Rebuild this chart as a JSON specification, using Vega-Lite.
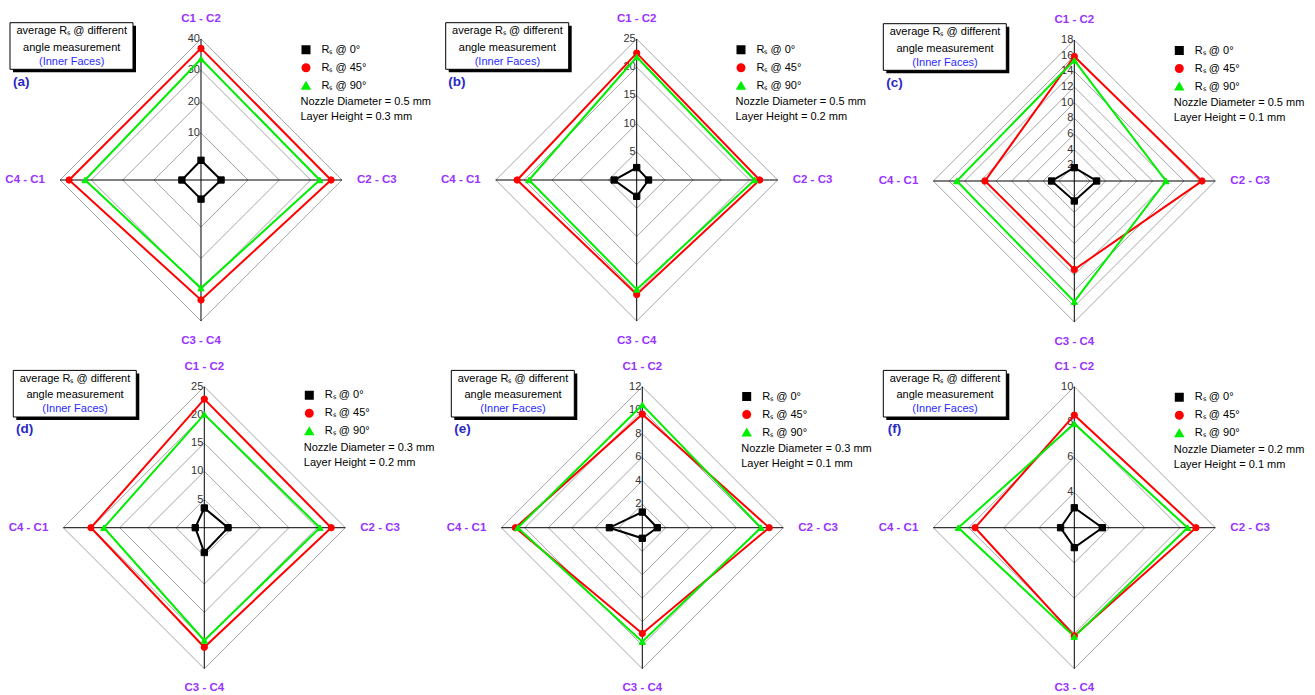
{
  "$schema": "https://vega.github.io/schema/vega-lite/v6.json",
  "padding": 0,
  "config": {"view": {"stroke": null}, "font": "Liberation Sans"},
  "datasets": {
    "ra": [
      {"panel": "a", "series": "0°", "pair": "C1 - C2", "value": 1.3},
      {"panel": "a", "series": "0°", "pair": "C2 - C3", "value": 1.4},
      {"panel": "a", "series": "0°", "pair": "C3 - C4", "value": 1.1},
      {"panel": "a", "series": "0°", "pair": "C4 - C1", "value": 1.1},
      {"panel": "a", "series": "45°", "pair": "C1 - C2", "value": 37.0},
      {"panel": "a", "series": "45°", "pair": "C2 - C3", "value": 36.5},
      {"panel": "a", "series": "45°", "pair": "C3 - C4", "value": 33.3},
      {"panel": "a", "series": "45°", "pair": "C4 - C1", "value": 37.1},
      {"panel": "a", "series": "90°", "pair": "C1 - C2", "value": 33.6},
      {"panel": "a", "series": "90°", "pair": "C2 - C3", "value": 32.9},
      {"panel": "a", "series": "90°", "pair": "C3 - C4", "value": 29.5},
      {"panel": "a", "series": "90°", "pair": "C4 - C1", "value": 32.0},
      {"panel": "b", "series": "0°", "pair": "C1 - C2", "value": 2.2},
      {"panel": "b", "series": "0°", "pair": "C2 - C3", "value": 2.1},
      {"panel": "b", "series": "0°", "pair": "C3 - C4", "value": 2.9},
      {"panel": "b", "series": "0°", "pair": "C4 - C1", "value": 4.0},
      {"panel": "b", "series": "45°", "pair": "C1 - C2", "value": 22.5},
      {"panel": "b", "series": "45°", "pair": "C2 - C3", "value": 21.8},
      {"panel": "b", "series": "45°", "pair": "C3 - C4", "value": 20.3},
      {"panel": "b", "series": "45°", "pair": "C4 - C1", "value": 21.2},
      {"panel": "b", "series": "90°", "pair": "C1 - C2", "value": 21.8},
      {"panel": "b", "series": "90°", "pair": "C2 - C3", "value": 20.9},
      {"panel": "b", "series": "90°", "pair": "C3 - C4", "value": 19.4},
      {"panel": "b", "series": "90°", "pair": "C4 - C1", "value": 19.1},
      {"panel": "c", "series": "0°", "pair": "C1 - C2", "value": 1.7},
      {"panel": "c", "series": "0°", "pair": "C2 - C3", "value": 2.85},
      {"panel": "c", "series": "0°", "pair": "C3 - C4", "value": 2.55},
      {"panel": "c", "series": "0°", "pair": "C4 - C1", "value": 2.9},
      {"panel": "c", "series": "45°", "pair": "C1 - C2", "value": 15.9},
      {"panel": "c", "series": "45°", "pair": "C2 - C3", "value": 16.3},
      {"panel": "c", "series": "45°", "pair": "C3 - C4", "value": 11.3},
      {"panel": "c", "series": "45°", "pair": "C4 - C1", "value": 11.4},
      {"panel": "c", "series": "90°", "pair": "C1 - C2", "value": 15.4},
      {"panel": "c", "series": "90°", "pair": "C2 - C3", "value": 11.7},
      {"panel": "c", "series": "90°", "pair": "C3 - C4", "value": 15.4},
      {"panel": "c", "series": "90°", "pair": "C4 - C1", "value": 15.0},
      {"panel": "d", "series": "0°", "pair": "C1 - C2", "value": 3.5},
      {"panel": "d", "series": "0°", "pair": "C2 - C3", "value": 4.2},
      {"panel": "d", "series": "0°", "pair": "C3 - C4", "value": 4.4},
      {"panel": "d", "series": "0°", "pair": "C4 - C1", "value": 1.6},
      {"panel": "d", "series": "45°", "pair": "C1 - C2", "value": 22.8},
      {"panel": "d", "series": "45°", "pair": "C2 - C3", "value": 22.5},
      {"panel": "d", "series": "45°", "pair": "C3 - C4", "value": 21.2},
      {"panel": "d", "series": "45°", "pair": "C4 - C1", "value": 20.1},
      {"panel": "d", "series": "90°", "pair": "C1 - C2", "value": 20.1},
      {"panel": "d", "series": "90°", "pair": "C2 - C3", "value": 20.5},
      {"panel": "d", "series": "90°", "pair": "C3 - C4", "value": 20.0},
      {"panel": "d", "series": "90°", "pair": "C4 - C1", "value": 17.8},
      {"panel": "e", "series": "0°", "pair": "C1 - C2", "value": 1.33},
      {"panel": "e", "series": "0°", "pair": "C2 - C3", "value": 1.27},
      {"panel": "e", "series": "0°", "pair": "C3 - C4", "value": 0.9},
      {"panel": "e", "series": "0°", "pair": "C4 - C1", "value": 2.8},
      {"panel": "e", "series": "45°", "pair": "C1 - C2", "value": 9.66},
      {"panel": "e", "series": "45°", "pair": "C2 - C3", "value": 10.8},
      {"panel": "e", "series": "45°", "pair": "C3 - C4", "value": 9.0},
      {"panel": "e", "series": "45°", "pair": "C4 - C1", "value": 10.8},
      {"panel": "e", "series": "90°", "pair": "C1 - C2", "value": 10.45},
      {"panel": "e", "series": "90°", "pair": "C2 - C3", "value": 10.1},
      {"panel": "e", "series": "90°", "pair": "C3 - C4", "value": 9.7},
      {"panel": "e", "series": "90°", "pair": "C4 - C1", "value": 10.6},
      {"panel": "f", "series": "0°", "pair": "C1 - C2", "value": 3.13},
      {"panel": "f", "series": "0°", "pair": "C2 - C3", "value": 3.59},
      {"panel": "f", "series": "0°", "pair": "C3 - C4", "value": 3.13},
      {"panel": "f", "series": "0°", "pair": "C4 - C1", "value": 2.78},
      {"panel": "f", "series": "45°", "pair": "C1 - C2", "value": 8.39},
      {"panel": "f", "series": "45°", "pair": "C2 - C3", "value": 8.9},
      {"panel": "f", "series": "45°", "pair": "C3 - C4", "value": 8.14},
      {"panel": "f", "series": "45°", "pair": "C4 - C1", "value": 7.63},
      {"panel": "f", "series": "90°", "pair": "C1 - C2", "value": 7.9},
      {"panel": "f", "series": "90°", "pair": "C2 - C3", "value": 8.43},
      {"panel": "f", "series": "90°", "pair": "C3 - C4", "value": 8.18},
      {"panel": "f", "series": "90°", "pair": "C4 - C1", "value": 8.58}
    ],
    "panels": [
      {"panel": "a", "lo": -5, "hi": 40},
      {"panel": "b", "lo": 0, "hi": 25},
      {"panel": "c", "lo": 0, "hi": 18},
      {"panel": "d", "lo": 0, "hi": 25},
      {"panel": "e", "lo": 0, "hi": 12},
      {"panel": "f", "lo": 2, "hi": 10}
    ],
    "rings": [
      {"panel": "a", "tick": 10}, {"panel": "a", "tick": 20}, {"panel": "a", "tick": 30}, {"panel": "a", "tick": 40},
      {"panel": "b", "tick": 5}, {"panel": "b", "tick": 10}, {"panel": "b", "tick": 15}, {"panel": "b", "tick": 20}, {"panel": "b", "tick": 25},
      {"panel": "c", "tick": 2}, {"panel": "c", "tick": 4}, {"panel": "c", "tick": 6}, {"panel": "c", "tick": 8}, {"panel": "c", "tick": 10},
      {"panel": "c", "tick": 12}, {"panel": "c", "tick": 14}, {"panel": "c", "tick": 16}, {"panel": "c", "tick": 18},
      {"panel": "d", "tick": 5}, {"panel": "d", "tick": 10}, {"panel": "d", "tick": 15}, {"panel": "d", "tick": 20}, {"panel": "d", "tick": 25},
      {"panel": "e", "tick": 2}, {"panel": "e", "tick": 4}, {"panel": "e", "tick": 6}, {"panel": "e", "tick": 8}, {"panel": "e", "tick": 10}, {"panel": "e", "tick": 12},
      {"panel": "f", "tick": 4}, {"panel": "f", "tick": 6}, {"panel": "f", "tick": 8}, {"panel": "f", "tick": 10}
    ],
    "axes": [
      {"pair": "C1 - C2"}, {"pair": "C2 - C3"}, {"pair": "C3 - C4"}, {"pair": "C4 - C1"}
    ]
  },
  "spacing": 0,
  "resolve": {
    "scale": {"x": "independent", "y": "independent", "stroke": "independent", "fill": "independent", "shape": "independent"},
    "legend": {"stroke": "independent", "fill": "independent", "shape": "independent"}
  },
  "vconcat": [
    {
      "spacing": 0,
      "bounds": "flush",
      "resolve": {
        "scale": {"x": "independent", "y": "independent", "stroke": "independent", "fill": "independent", "shape": "independent"},
        "legend": {"stroke": "independent", "fill": "independent", "shape": "independent"}
      },
      "hconcat": [
        {
          "width": 436, "height": 347,
          "data": {"name": "ra"},
          "transform": [
            {"filter": "datum.panel == 'a'"},
            {"lookup": "panel", "from": {"data": {"name": "panels"}, "key": "panel", "fields": ["lo", "hi"]}},
            {"calculate": "(datum.value - datum.lo) / (datum.hi - datum.lo)", "as": "r"},
            {"calculate": "datum.pair == 'C2 - C3' ? datum.r : datum.pair == 'C4 - C1' ? -datum.r : 0", "as": "x"},
            {"calculate": "datum.pair == 'C1 - C2' ? datum.r : datum.pair == 'C3 - C4' ? -datum.r : 0", "as": "y"}
          ],
          "layer": [
            {
              "data": {"name": "rings"},
              "transform": [
                {"filter": "datum.panel == 'a'"},
                {"calculate": "['C1 - C2', 'C2 - C3', 'C3 - C4', 'C4 - C1']", "as": "pair"},
                {"flatten": ["pair"]},
                {"lookup": "panel", "from": {"data": {"name": "panels"}, "key": "panel", "fields": ["lo", "hi"]}},
                {"calculate": "(datum.tick - datum.lo) / (datum.hi - datum.lo)", "as": "r"},
                {"calculate": "datum.pair == 'C2 - C3' ? datum.r : datum.pair == 'C4 - C1' ? -datum.r : 0", "as": "x"},
                {"calculate": "datum.pair == 'C1 - C2' ? datum.r : datum.pair == 'C3 - C4' ? -datum.r : 0", "as": "y"}
              ],
              "mark": {"type": "line", "interpolate": "linear-closed", "stroke": "#a6a6a6", "strokeWidth": 1},
              "encoding": {
                "x": {"field": "x", "type": "quantitative", "scale": {"domain": [-1.4255, 1.6667], "nice": false, "zero": false}, "axis": null},
                "y": {"field": "y", "type": "quantitative", "scale": {"domain": [-1.1844, 1.2766], "nice": false, "zero": false}, "axis": null},
                "detail": {"field": "tick", "type": "nominal"},
                "order": {"field": "pair", "type": "ordinal"}
              }
            },
            {"data": {"values": [{}]}, "mark": {"type": "rule", "color": "#000000", "strokeWidth": 1}, "encoding": {"x": {"datum": -1, "type": "quantitative"}, "x2": {"datum": 1}, "y": {"datum": 0, "type": "quantitative"}}},
            {"data": {"values": [{}]}, "mark": {"type": "rule", "color": "#000000", "strokeWidth": 1}, "encoding": {"x": {"datum": 0, "type": "quantitative"}, "y": {"datum": -1, "type": "quantitative"}, "y2": {"datum": 1}}},
            {
              "data": {"name": "rings"},
              "transform": [
                {"filter": "datum.panel == 'a'"},
                {"lookup": "panel", "from": {"data": {"name": "panels"}, "key": "panel", "fields": ["lo", "hi"]}},
                {"calculate": "(datum.tick - datum.lo) / (datum.hi - datum.lo)", "as": "r"}
              ],
              "mark": {"type": "text", "align": "right", "baseline": "middle", "dx": -1, "fontSize": 11, "color": "#333333"},
              "encoding": {"x": {"datum": 0, "type": "quantitative"}, "y": {"field": "r", "type": "quantitative"}, "text": {"field": "tick", "type": "quantitative"}}
            },
            {
              "data": {"name": "axes"},
              "transform": [
                {"calculate": "datum.pair == 'C2 - C3' ? 1.247 : datum.pair == 'C4 - C1' ? -1.247 : 0", "as": "lx"},
                {"calculate": "datum.pair == 'C1 - C2' ? 1.142 : datum.pair == 'C3 - C4' ? -1.14 : 0", "as": "ly"}
              ],
              "mark": {"type": "text", "align": "center", "baseline": "middle", "fontSize": 11.5, "fontWeight": "bold", "color": "#9933ff"},
              "encoding": {"x": {"field": "lx", "type": "quantitative"}, "y": {"field": "ly", "type": "quantitative"}, "text": {"field": "pair", "type": "nominal"}}
            },
            {
              "mark": {"type": "line", "interpolate": "linear-closed", "strokeWidth": 2},
              "encoding": {
                "x": {"field": "x", "type": "quantitative"},
                "y": {"field": "y", "type": "quantitative"},
                "stroke": {"field": "series", "type": "nominal", "scale": {"domain": ["0°", "45°", "90°"], "range": ["#000000", "#ff0000", "#00ee00"]}},
                "order": {"field": "pair", "type": "ordinal"}
              }
            },
            {
              "mark": {"type": "point", "filled": true, "size": 40, "strokeWidth": 1, "opacity": 1},
              "encoding": {
                "x": {"field": "x", "type": "quantitative"},
                "y": {"field": "y", "type": "quantitative"},
                "stroke": {"field": "series", "type": "nominal"},
                "shape": {"field": "series", "type": "nominal", "scale": {"domain": ["0°", "45°", "90°"], "range": ["square", "circle", "triangle-up"]}},
                "fill": {
                  "field": "series", "type": "nominal",
                  "scale": {"domain": ["0°", "45°", "90°"], "range": ["#000000", "#ff0000", "#00ee00"]},
                  "legend": {
                    "orient": "none", "legendX": 300.5, "legendY": 44.3, "padding": 0,
                    "title": ["Nozzle Diameter = 0.5 mm", "Layer Height = 0.3 mm"],
                    "titleOrient": "bottom", "titleAnchor": "start", "titleAlign": "left", "titleFontSize": 11, "titleFontWeight": "normal", "titleColor": "#000000", "titleLineHeight": 15, "titlePadding": 3,
                    "labelFontSize": 11, "labelColor": "#000000", "labelOffset": 10, "labelExpr": "'Rₛ @ ' + datum.label",
                    "symbolSize": 49, "symbolStrokeWidth": 2, "rowPadding": 3
                  }
                }
              }
            },
            {"data": {"values": [{}]}, "mark": {"type": "rect", "fill": "#000000"}, "encoding": {"x": {"datum": -1.3333, "type": "quantitative"}, "x2": {"datum": -0.461}, "y": {"datum": 1.0943, "type": "quantitative"}, "y2": {"datum": 0.7638}}},
            {"data": {"values": [{}]}, "mark": {"type": "rect", "fill": "#ffffff", "stroke": "#000000", "strokeWidth": 1}, "encoding": {"x": {"datum": -1.3546, "type": "quantitative"}, "x2": {"datum": -0.4823}, "y": {"datum": 1.1156, "type": "quantitative"}, "y2": {"datum": 0.7851}}},
            {"data": {"values": [{}]}, "mark": {"type": "text", "align": "center", "baseline": "top", "fontSize": 11, "lineHeight": 16.6, "color": "#000000"}, "encoding": {"x": {"datum": -0.917, "type": "quantitative"}, "y": {"datum": 1.0979, "type": "quantitative"}, "text": {"value": ["average Rₛ @ different", "angle measurement"]}}},
            {"data": {"values": [{}]}, "mark": {"type": "text", "align": "center", "baseline": "middle", "fontSize": 11, "color": "#2b2bff"}, "encoding": {"x": {"datum": -0.917, "type": "quantitative"}, "y": {"datum": 0.839, "type": "quantitative"}, "text": {"value": "(Inner Faces)"}}},
            {"data": {"values": [{}]}, "mark": {"type": "text", "align": "center", "baseline": "middle", "fontSize": 13.5, "fontWeight": "bold", "color": "#2929c8"}, "encoding": {"x": {"datum": -1.2745, "type": "quantitative"}, "y": {"datum": 0.697, "type": "quantitative"}, "text": {"value": "(a)"}}}
          ]
        },
        {
          "width": 436, "height": 347,
          "data": {"name": "ra"},
          "transform": [
            {"filter": "datum.panel == 'b'"},
            {"lookup": "panel", "from": {"data": {"name": "panels"}, "key": "panel", "fields": ["lo", "hi"]}},
            {"calculate": "(datum.value - datum.lo) / (datum.hi - datum.lo)", "as": "r"},
            {"calculate": "datum.pair == 'C2 - C3' ? datum.r : datum.pair == 'C4 - C1' ? -datum.r : 0", "as": "x"},
            {"calculate": "datum.pair == 'C1 - C2' ? datum.r : datum.pair == 'C3 - C4' ? -datum.r : 0", "as": "y"}
          ],
          "layer": [
            {
              "data": {"name": "rings"},
              "transform": [
                {"filter": "datum.panel == 'b'"},
                {"calculate": "['C1 - C2', 'C2 - C3', 'C3 - C4', 'C4 - C1']", "as": "pair"},
                {"flatten": ["pair"]},
                {"lookup": "panel", "from": {"data": {"name": "panels"}, "key": "panel", "fields": ["lo", "hi"]}},
                {"calculate": "(datum.tick - datum.lo) / (datum.hi - datum.lo)", "as": "r"},
                {"calculate": "datum.pair == 'C2 - C3' ? datum.r : datum.pair == 'C4 - C1' ? -datum.r : 0", "as": "x"},
                {"calculate": "datum.pair == 'C1 - C2' ? datum.r : datum.pair == 'C3 - C4' ? -datum.r : 0", "as": "y"}
              ],
              "mark": {"type": "line", "interpolate": "linear-closed", "stroke": "#a6a6a6", "strokeWidth": 1},
              "encoding": {
                "x": {"field": "x", "type": "quantitative", "scale": {"domain": [-1.4234, 1.6688], "nice": false, "zero": false}, "axis": null},
                "y": {"field": "y", "type": "quantitative", "scale": {"domain": [-1.1844, 1.2766], "nice": false, "zero": false}, "axis": null},
                "detail": {"field": "tick", "type": "nominal"},
                "order": {"field": "pair", "type": "ordinal"}
              }
            },
            {"data": {"values": [{}]}, "mark": {"type": "rule", "color": "#000000", "strokeWidth": 1}, "encoding": {"x": {"datum": -1, "type": "quantitative"}, "x2": {"datum": 1}, "y": {"datum": 0, "type": "quantitative"}}},
            {"data": {"values": [{}]}, "mark": {"type": "rule", "color": "#000000", "strokeWidth": 1}, "encoding": {"x": {"datum": 0, "type": "quantitative"}, "y": {"datum": -1, "type": "quantitative"}, "y2": {"datum": 1}}},
            {
              "data": {"name": "rings"},
              "transform": [
                {"filter": "datum.panel == 'b'"},
                {"lookup": "panel", "from": {"data": {"name": "panels"}, "key": "panel", "fields": ["lo", "hi"]}},
                {"calculate": "(datum.tick - datum.lo) / (datum.hi - datum.lo)", "as": "r"}
              ],
              "mark": {"type": "text", "align": "right", "baseline": "middle", "dx": -1, "fontSize": 11, "color": "#333333"},
              "encoding": {"x": {"datum": 0, "type": "quantitative"}, "y": {"field": "r", "type": "quantitative"}, "text": {"field": "tick", "type": "quantitative"}}
            },
            {
              "data": {"name": "axes"},
              "transform": [
                {"calculate": "datum.pair == 'C2 - C3' ? 1.247 : datum.pair == 'C4 - C1' ? -1.247 : 0", "as": "lx"},
                {"calculate": "datum.pair == 'C1 - C2' ? 1.142 : datum.pair == 'C3 - C4' ? -1.14 : 0", "as": "ly"}
              ],
              "mark": {"type": "text", "align": "center", "baseline": "middle", "fontSize": 11.5, "fontWeight": "bold", "color": "#9933ff"},
              "encoding": {"x": {"field": "lx", "type": "quantitative"}, "y": {"field": "ly", "type": "quantitative"}, "text": {"field": "pair", "type": "nominal"}}
            },
            {
              "mark": {"type": "line", "interpolate": "linear-closed", "strokeWidth": 2},
              "encoding": {
                "x": {"field": "x", "type": "quantitative"},
                "y": {"field": "y", "type": "quantitative"},
                "stroke": {"field": "series", "type": "nominal", "scale": {"domain": ["0°", "45°", "90°"], "range": ["#000000", "#ff0000", "#00ee00"]}},
                "order": {"field": "pair", "type": "ordinal"}
              }
            },
            {
              "mark": {"type": "point", "filled": true, "size": 40, "strokeWidth": 1, "opacity": 1},
              "encoding": {
                "x": {"field": "x", "type": "quantitative"},
                "y": {"field": "y", "type": "quantitative"},
                "stroke": {"field": "series", "type": "nominal"},
                "shape": {"field": "series", "type": "nominal", "scale": {"domain": ["0°", "45°", "90°"], "range": ["square", "circle", "triangle-up"]}},
                "fill": {
                  "field": "series", "type": "nominal",
                  "scale": {"domain": ["0°", "45°", "90°"], "range": ["#000000", "#ff0000", "#00ee00"]},
                  "legend": {
                    "orient": "none", "legendX": 299.5, "legendY": 44.3, "padding": 0,
                    "title": ["Nozzle Diameter = 0.5 mm", "Layer Height = 0.2 mm"],
                    "titleOrient": "bottom", "titleAnchor": "start", "titleAlign": "left", "titleFontSize": 11, "titleFontWeight": "normal", "titleColor": "#000000", "titleLineHeight": 15, "titlePadding": 3,
                    "labelFontSize": 11, "labelColor": "#000000", "labelOffset": 10, "labelExpr": "'Rₛ @ ' + datum.label",
                    "symbolSize": 49, "symbolStrokeWidth": 2, "rowPadding": 3
                  }
                }
              }
            },
            {"data": {"values": [{}]}, "mark": {"type": "rect", "fill": "#000000"}, "encoding": {"x": {"datum": -1.3333, "type": "quantitative"}, "x2": {"datum": -0.461}, "y": {"datum": 1.0943, "type": "quantitative"}, "y2": {"datum": 0.7638}}},
            {"data": {"values": [{}]}, "mark": {"type": "rect", "fill": "#ffffff", "stroke": "#000000", "strokeWidth": 1}, "encoding": {"x": {"datum": -1.3546, "type": "quantitative"}, "x2": {"datum": -0.4823}, "y": {"datum": 1.1156, "type": "quantitative"}, "y2": {"datum": 0.7851}}},
            {"data": {"values": [{}]}, "mark": {"type": "text", "align": "center", "baseline": "top", "fontSize": 11, "lineHeight": 16.6, "color": "#000000"}, "encoding": {"x": {"datum": -0.917, "type": "quantitative"}, "y": {"datum": 1.0979, "type": "quantitative"}, "text": {"value": ["average Rₛ @ different", "angle measurement"]}}},
            {"data": {"values": [{}]}, "mark": {"type": "text", "align": "center", "baseline": "middle", "fontSize": 11, "color": "#2b2bff"}, "encoding": {"x": {"datum": -0.917, "type": "quantitative"}, "y": {"datum": 0.839, "type": "quantitative"}, "text": {"value": "(Inner Faces)"}}},
            {"data": {"values": [{}]}, "mark": {"type": "text", "align": "center", "baseline": "middle", "fontSize": 13.5, "fontWeight": "bold", "color": "#2929c8"}, "encoding": {"x": {"datum": -1.2745, "type": "quantitative"}, "y": {"datum": 0.697, "type": "quantitative"}, "text": {"value": "(b)"}}}
          ]
        },
        {
          "width": 436, "height": 347,
          "data": {"name": "ra"},
          "transform": [
            {"filter": "datum.panel == 'c'"},
            {"lookup": "panel", "from": {"data": {"name": "panels"}, "key": "panel", "fields": ["lo", "hi"]}},
            {"calculate": "(datum.value - datum.lo) / (datum.hi - datum.lo)", "as": "r"},
            {"calculate": "datum.pair == 'C2 - C3' ? datum.r : datum.pair == 'C4 - C1' ? -datum.r : 0", "as": "x"},
            {"calculate": "datum.pair == 'C1 - C2' ? datum.r : datum.pair == 'C3 - C4' ? -datum.r : 0", "as": "y"}
          ],
          "layer": [
            {
              "data": {"name": "rings"},
              "transform": [
                {"filter": "datum.panel == 'c'"},
                {"calculate": "['C1 - C2', 'C2 - C3', 'C3 - C4', 'C4 - C1']", "as": "pair"},
                {"flatten": ["pair"]},
                {"lookup": "panel", "from": {"data": {"name": "panels"}, "key": "panel", "fields": ["lo", "hi"]}},
                {"calculate": "(datum.tick - datum.lo) / (datum.hi - datum.lo)", "as": "r"},
                {"calculate": "datum.pair == 'C2 - C3' ? datum.r : datum.pair == 'C4 - C1' ? -datum.r : 0", "as": "x"},
                {"calculate": "datum.pair == 'C1 - C2' ? datum.r : datum.pair == 'C3 - C4' ? -datum.r : 0", "as": "y"}
              ],
              "mark": {"type": "line", "interpolate": "linear-closed", "stroke": "#a6a6a6", "strokeWidth": 1},
              "encoding": {
                "x": {"field": "x", "type": "quantitative", "scale": {"domain": [-1.4348, 1.6574], "nice": false, "zero": false}, "axis": null},
                "y": {"field": "y", "type": "quantitative", "scale": {"domain": [-1.1773, 1.2837], "nice": false, "zero": false}, "axis": null},
                "detail": {"field": "tick", "type": "nominal"},
                "order": {"field": "pair", "type": "ordinal"}
              }
            },
            {"data": {"values": [{}]}, "mark": {"type": "rule", "color": "#000000", "strokeWidth": 1}, "encoding": {"x": {"datum": -1, "type": "quantitative"}, "x2": {"datum": 1}, "y": {"datum": 0, "type": "quantitative"}}},
            {"data": {"values": [{}]}, "mark": {"type": "rule", "color": "#000000", "strokeWidth": 1}, "encoding": {"x": {"datum": 0, "type": "quantitative"}, "y": {"datum": -1, "type": "quantitative"}, "y2": {"datum": 1}}},
            {
              "data": {"name": "rings"},
              "transform": [
                {"filter": "datum.panel == 'c'"},
                {"lookup": "panel", "from": {"data": {"name": "panels"}, "key": "panel", "fields": ["lo", "hi"]}},
                {"calculate": "(datum.tick - datum.lo) / (datum.hi - datum.lo)", "as": "r"}
              ],
              "mark": {"type": "text", "align": "right", "baseline": "middle", "dx": -1, "fontSize": 11, "color": "#333333"},
              "encoding": {"x": {"datum": 0, "type": "quantitative"}, "y": {"field": "r", "type": "quantitative"}, "text": {"field": "tick", "type": "quantitative"}}
            },
            {
              "data": {"name": "axes"},
              "transform": [
                {"calculate": "datum.pair == 'C2 - C3' ? 1.247 : datum.pair == 'C4 - C1' ? -1.247 : 0", "as": "lx"},
                {"calculate": "datum.pair == 'C1 - C2' ? 1.142 : datum.pair == 'C3 - C4' ? -1.14 : 0", "as": "ly"}
              ],
              "mark": {"type": "text", "align": "center", "baseline": "middle", "fontSize": 11.5, "fontWeight": "bold", "color": "#9933ff"},
              "encoding": {"x": {"field": "lx", "type": "quantitative"}, "y": {"field": "ly", "type": "quantitative"}, "text": {"field": "pair", "type": "nominal"}}
            },
            {
              "mark": {"type": "line", "interpolate": "linear-closed", "strokeWidth": 2},
              "encoding": {
                "x": {"field": "x", "type": "quantitative"},
                "y": {"field": "y", "type": "quantitative"},
                "stroke": {"field": "series", "type": "nominal", "scale": {"domain": ["0°", "45°", "90°"], "range": ["#000000", "#ff0000", "#00ee00"]}},
                "order": {"field": "pair", "type": "ordinal"}
              }
            },
            {
              "mark": {"type": "point", "filled": true, "size": 40, "strokeWidth": 1, "opacity": 1},
              "encoding": {
                "x": {"field": "x", "type": "quantitative"},
                "y": {"field": "y", "type": "quantitative"},
                "stroke": {"field": "series", "type": "nominal"},
                "shape": {"field": "series", "type": "nominal", "scale": {"domain": ["0°", "45°", "90°"], "range": ["square", "circle", "triangle-up"]}},
                "fill": {
                  "field": "series", "type": "nominal",
                  "scale": {"domain": ["0°", "45°", "90°"], "range": ["#000000", "#ff0000", "#00ee00"]},
                  "legend": {
                    "orient": "none", "legendX": 301.8, "legendY": 45, "padding": 0,
                    "title": ["Nozzle Diameter = 0.5 mm", "Layer Height = 0.1 mm"],
                    "titleOrient": "bottom", "titleAnchor": "start", "titleAlign": "left", "titleFontSize": 11, "titleFontWeight": "normal", "titleColor": "#000000", "titleLineHeight": 15, "titlePadding": 3,
                    "labelFontSize": 11, "labelColor": "#000000", "labelOffset": 10, "labelExpr": "'Rₛ @ ' + datum.label",
                    "symbolSize": 49, "symbolStrokeWidth": 2, "rowPadding": 3
                  }
                }
              }
            },
            {"data": {"values": [{}]}, "mark": {"type": "rect", "fill": "#000000"}, "encoding": {"x": {"datum": -1.3333, "type": "quantitative"}, "x2": {"datum": -0.461}, "y": {"datum": 1.0943, "type": "quantitative"}, "y2": {"datum": 0.7638}}},
            {"data": {"values": [{}]}, "mark": {"type": "rect", "fill": "#ffffff", "stroke": "#000000", "strokeWidth": 1}, "encoding": {"x": {"datum": -1.3546, "type": "quantitative"}, "x2": {"datum": -0.4823}, "y": {"datum": 1.1156, "type": "quantitative"}, "y2": {"datum": 0.7851}}},
            {"data": {"values": [{}]}, "mark": {"type": "text", "align": "center", "baseline": "top", "fontSize": 11, "lineHeight": 16.6, "color": "#000000"}, "encoding": {"x": {"datum": -0.917, "type": "quantitative"}, "y": {"datum": 1.0979, "type": "quantitative"}, "text": {"value": ["average Rₛ @ different", "angle measurement"]}}},
            {"data": {"values": [{}]}, "mark": {"type": "text", "align": "center", "baseline": "middle", "fontSize": 11, "color": "#2b2bff"}, "encoding": {"x": {"datum": -0.917, "type": "quantitative"}, "y": {"datum": 0.839, "type": "quantitative"}, "text": {"value": "(Inner Faces)"}}},
            {"data": {"values": [{}]}, "mark": {"type": "text", "align": "center", "baseline": "middle", "fontSize": 13.5, "fontWeight": "bold", "color": "#2929c8"}, "encoding": {"x": {"datum": -1.2745, "type": "quantitative"}, "y": {"datum": 0.697, "type": "quantitative"}, "text": {"value": "(c)"}}}
          ]
        }
      ]
    },
    {
      "spacing": 0,
      "bounds": "flush",
      "resolve": {
        "scale": {"x": "independent", "y": "independent", "stroke": "independent", "fill": "independent", "shape": "independent"},
        "legend": {"stroke": "independent", "fill": "independent", "shape": "independent"}
      },
      "hconcat": [
        {
          "width": 436, "height": 347,
          "data": {"name": "ra"},
          "transform": [
            {"filter": "datum.panel == 'd'"},
            {"lookup": "panel", "from": {"data": {"name": "panels"}, "key": "panel", "fields": ["lo", "hi"]}},
            {"calculate": "(datum.value - datum.lo) / (datum.hi - datum.lo)", "as": "r"},
            {"calculate": "datum.pair == 'C2 - C3' ? datum.r : datum.pair == 'C4 - C1' ? -datum.r : 0", "as": "x"},
            {"calculate": "datum.pair == 'C1 - C2' ? datum.r : datum.pair == 'C3 - C4' ? -datum.r : 0", "as": "y"}
          ],
          "layer": [
            {
              "data": {"name": "rings"},
              "transform": [
                {"filter": "datum.panel == 'd'"},
                {"calculate": "['C1 - C2', 'C2 - C3', 'C3 - C4', 'C4 - C1']", "as": "pair"},
                {"flatten": ["pair"]},
                {"lookup": "panel", "from": {"data": {"name": "panels"}, "key": "panel", "fields": ["lo", "hi"]}},
                {"calculate": "(datum.tick - datum.lo) / (datum.hi - datum.lo)", "as": "r"},
                {"calculate": "datum.pair == 'C2 - C3' ? datum.r : datum.pair == 'C4 - C1' ? -datum.r : 0", "as": "x"},
                {"calculate": "datum.pair == 'C1 - C2' ? datum.r : datum.pair == 'C3 - C4' ? -datum.r : 0", "as": "y"}
              ],
              "mark": {"type": "line", "interpolate": "linear-closed", "stroke": "#a6a6a6", "strokeWidth": 1},
              "encoding": {
                "x": {"field": "x", "type": "quantitative", "scale": {"domain": [-1.4489, 1.6433], "nice": false, "zero": false}, "axis": null},
                "y": {"field": "y", "type": "quantitative", "scale": {"domain": [-1.1865, 1.2745], "nice": false, "zero": false}, "axis": null},
                "detail": {"field": "tick", "type": "nominal"},
                "order": {"field": "pair", "type": "ordinal"}
              }
            },
            {"data": {"values": [{}]}, "mark": {"type": "rule", "color": "#000000", "strokeWidth": 1}, "encoding": {"x": {"datum": -1, "type": "quantitative"}, "x2": {"datum": 1}, "y": {"datum": 0, "type": "quantitative"}}},
            {"data": {"values": [{}]}, "mark": {"type": "rule", "color": "#000000", "strokeWidth": 1}, "encoding": {"x": {"datum": 0, "type": "quantitative"}, "y": {"datum": -1, "type": "quantitative"}, "y2": {"datum": 1}}},
            {
              "data": {"name": "rings"},
              "transform": [
                {"filter": "datum.panel == 'd'"},
                {"lookup": "panel", "from": {"data": {"name": "panels"}, "key": "panel", "fields": ["lo", "hi"]}},
                {"calculate": "(datum.tick - datum.lo) / (datum.hi - datum.lo)", "as": "r"}
              ],
              "mark": {"type": "text", "align": "right", "baseline": "middle", "dx": -1, "fontSize": 11, "color": "#333333"},
              "encoding": {"x": {"datum": 0, "type": "quantitative"}, "y": {"field": "r", "type": "quantitative"}, "text": {"field": "tick", "type": "quantitative"}}
            },
            {
              "data": {"name": "axes"},
              "transform": [
                {"calculate": "datum.pair == 'C2 - C3' ? 1.247 : datum.pair == 'C4 - C1' ? -1.247 : 0", "as": "lx"},
                {"calculate": "datum.pair == 'C1 - C2' ? 1.142 : datum.pair == 'C3 - C4' ? -1.14 : 0", "as": "ly"}
              ],
              "mark": {"type": "text", "align": "center", "baseline": "middle", "fontSize": 11.5, "fontWeight": "bold", "color": "#9933ff"},
              "encoding": {"x": {"field": "lx", "type": "quantitative"}, "y": {"field": "ly", "type": "quantitative"}, "text": {"field": "pair", "type": "nominal"}}
            },
            {
              "mark": {"type": "line", "interpolate": "linear-closed", "strokeWidth": 2},
              "encoding": {
                "x": {"field": "x", "type": "quantitative"},
                "y": {"field": "y", "type": "quantitative"},
                "stroke": {"field": "series", "type": "nominal", "scale": {"domain": ["0°", "45°", "90°"], "range": ["#000000", "#ff0000", "#00ee00"]}},
                "order": {"field": "pair", "type": "ordinal"}
              }
            },
            {
              "mark": {"type": "point", "filled": true, "size": 40, "strokeWidth": 1, "opacity": 1},
              "encoding": {
                "x": {"field": "x", "type": "quantitative"},
                "y": {"field": "y", "type": "quantitative"},
                "stroke": {"field": "series", "type": "nominal"},
                "shape": {"field": "series", "type": "nominal", "scale": {"domain": ["0°", "45°", "90°"], "range": ["square", "circle", "triangle-up"]}},
                "fill": {
                  "field": "series", "type": "nominal",
                  "scale": {"domain": ["0°", "45°", "90°"], "range": ["#000000", "#ff0000", "#00ee00"]},
                  "legend": {
                    "orient": "none", "legendX": 303.8, "legendY": 41.7, "padding": 0,
                    "title": ["Nozzle Diameter = 0.3 mm", "Layer Height = 0.2 mm"],
                    "titleOrient": "bottom", "titleAnchor": "start", "titleAlign": "left", "titleFontSize": 11, "titleFontWeight": "normal", "titleColor": "#000000", "titleLineHeight": 15, "titlePadding": 3,
                    "labelFontSize": 11, "labelColor": "#000000", "labelOffset": 10, "labelExpr": "'Rₛ @ ' + datum.label",
                    "symbolSize": 49, "symbolStrokeWidth": 2, "rowPadding": 3
                  }
                }
              }
            },
            {"data": {"values": [{}]}, "mark": {"type": "rect", "fill": "#000000"}, "encoding": {"x": {"datum": -1.3333, "type": "quantitative"}, "x2": {"datum": -0.461}, "y": {"datum": 1.0943, "type": "quantitative"}, "y2": {"datum": 0.7638}}},
            {"data": {"values": [{}]}, "mark": {"type": "rect", "fill": "#ffffff", "stroke": "#000000", "strokeWidth": 1}, "encoding": {"x": {"datum": -1.3546, "type": "quantitative"}, "x2": {"datum": -0.4823}, "y": {"datum": 1.1156, "type": "quantitative"}, "y2": {"datum": 0.7851}}},
            {"data": {"values": [{}]}, "mark": {"type": "text", "align": "center", "baseline": "top", "fontSize": 11, "lineHeight": 16.6, "color": "#000000"}, "encoding": {"x": {"datum": -0.917, "type": "quantitative"}, "y": {"datum": 1.0979, "type": "quantitative"}, "text": {"value": ["average Rₛ @ different", "angle measurement"]}}},
            {"data": {"values": [{}]}, "mark": {"type": "text", "align": "center", "baseline": "middle", "fontSize": 11, "color": "#2b2bff"}, "encoding": {"x": {"datum": -0.917, "type": "quantitative"}, "y": {"datum": 0.839, "type": "quantitative"}, "text": {"value": "(Inner Faces)"}}},
            {"data": {"values": [{}]}, "mark": {"type": "text", "align": "center", "baseline": "middle", "fontSize": 13.5, "fontWeight": "bold", "color": "#2929c8"}, "encoding": {"x": {"datum": -1.2745, "type": "quantitative"}, "y": {"datum": 0.697, "type": "quantitative"}, "text": {"value": "(d)"}}}
          ]
        },
        {
          "width": 436, "height": 347,
          "data": {"name": "ra"},
          "transform": [
            {"filter": "datum.panel == 'e'"},
            {"lookup": "panel", "from": {"data": {"name": "panels"}, "key": "panel", "fields": ["lo", "hi"]}},
            {"calculate": "(datum.value - datum.lo) / (datum.hi - datum.lo)", "as": "r"},
            {"calculate": "datum.pair == 'C2 - C3' ? datum.r : datum.pair == 'C4 - C1' ? -datum.r : 0", "as": "x"},
            {"calculate": "datum.pair == 'C1 - C2' ? datum.r : datum.pair == 'C3 - C4' ? -datum.r : 0", "as": "y"}
          ],
          "layer": [
            {
              "data": {"name": "rings"},
              "transform": [
                {"filter": "datum.panel == 'e'"},
                {"calculate": "['C1 - C2', 'C2 - C3', 'C3 - C4', 'C4 - C1']", "as": "pair"},
                {"flatten": ["pair"]},
                {"lookup": "panel", "from": {"data": {"name": "panels"}, "key": "panel", "fields": ["lo", "hi"]}},
                {"calculate": "(datum.tick - datum.lo) / (datum.hi - datum.lo)", "as": "r"},
                {"calculate": "datum.pair == 'C2 - C3' ? datum.r : datum.pair == 'C4 - C1' ? -datum.r : 0", "as": "x"},
                {"calculate": "datum.pair == 'C1 - C2' ? datum.r : datum.pair == 'C3 - C4' ? -datum.r : 0", "as": "y"}
              ],
              "mark": {"type": "line", "interpolate": "linear-closed", "stroke": "#a6a6a6", "strokeWidth": 1},
              "encoding": {
                "x": {"field": "x", "type": "quantitative", "scale": {"domain": [-1.4631, 1.6291], "nice": false, "zero": false}, "axis": null},
                "y": {"field": "y", "type": "quantitative", "scale": {"domain": [-1.1865, 1.2745], "nice": false, "zero": false}, "axis": null},
                "detail": {"field": "tick", "type": "nominal"},
                "order": {"field": "pair", "type": "ordinal"}
              }
            },
            {"data": {"values": [{}]}, "mark": {"type": "rule", "color": "#000000", "strokeWidth": 1}, "encoding": {"x": {"datum": -1, "type": "quantitative"}, "x2": {"datum": 1}, "y": {"datum": 0, "type": "quantitative"}}},
            {"data": {"values": [{}]}, "mark": {"type": "rule", "color": "#000000", "strokeWidth": 1}, "encoding": {"x": {"datum": 0, "type": "quantitative"}, "y": {"datum": -1, "type": "quantitative"}, "y2": {"datum": 1}}},
            {
              "data": {"name": "rings"},
              "transform": [
                {"filter": "datum.panel == 'e'"},
                {"lookup": "panel", "from": {"data": {"name": "panels"}, "key": "panel", "fields": ["lo", "hi"]}},
                {"calculate": "(datum.tick - datum.lo) / (datum.hi - datum.lo)", "as": "r"}
              ],
              "mark": {"type": "text", "align": "right", "baseline": "middle", "dx": -1, "fontSize": 11, "color": "#333333"},
              "encoding": {"x": {"datum": 0, "type": "quantitative"}, "y": {"field": "r", "type": "quantitative"}, "text": {"field": "tick", "type": "quantitative"}}
            },
            {
              "data": {"name": "axes"},
              "transform": [
                {"calculate": "datum.pair == 'C2 - C3' ? 1.247 : datum.pair == 'C4 - C1' ? -1.247 : 0", "as": "lx"},
                {"calculate": "datum.pair == 'C1 - C2' ? 1.142 : datum.pair == 'C3 - C4' ? -1.14 : 0", "as": "ly"}
              ],
              "mark": {"type": "text", "align": "center", "baseline": "middle", "fontSize": 11.5, "fontWeight": "bold", "color": "#9933ff"},
              "encoding": {"x": {"field": "lx", "type": "quantitative"}, "y": {"field": "ly", "type": "quantitative"}, "text": {"field": "pair", "type": "nominal"}}
            },
            {
              "mark": {"type": "line", "interpolate": "linear-closed", "strokeWidth": 2},
              "encoding": {
                "x": {"field": "x", "type": "quantitative"},
                "y": {"field": "y", "type": "quantitative"},
                "stroke": {"field": "series", "type": "nominal", "scale": {"domain": ["0°", "45°", "90°"], "range": ["#000000", "#ff0000", "#00ee00"]}},
                "order": {"field": "pair", "type": "ordinal"}
              }
            },
            {
              "mark": {"type": "point", "filled": true, "size": 40, "strokeWidth": 1, "opacity": 1},
              "encoding": {
                "x": {"field": "x", "type": "quantitative"},
                "y": {"field": "y", "type": "quantitative"},
                "stroke": {"field": "series", "type": "nominal"},
                "shape": {"field": "series", "type": "nominal", "scale": {"domain": ["0°", "45°", "90°"], "range": ["square", "circle", "triangle-up"]}},
                "fill": {
                  "field": "series", "type": "nominal",
                  "scale": {"domain": ["0°", "45°", "90°"], "range": ["#000000", "#ff0000", "#00ee00"]},
                  "legend": {
                    "orient": "none", "legendX": 305.2, "legendY": 43, "padding": 0,
                    "title": ["Nozzle Diameter = 0.3 mm", "Layer Height = 0.1 mm"],
                    "titleOrient": "bottom", "titleAnchor": "start", "titleAlign": "left", "titleFontSize": 11, "titleFontWeight": "normal", "titleColor": "#000000", "titleLineHeight": 15, "titlePadding": 3,
                    "labelFontSize": 11, "labelColor": "#000000", "labelOffset": 10, "labelExpr": "'Rₛ @ ' + datum.label",
                    "symbolSize": 49, "symbolStrokeWidth": 2, "rowPadding": 3
                  }
                }
              }
            },
            {"data": {"values": [{}]}, "mark": {"type": "rect", "fill": "#000000"}, "encoding": {"x": {"datum": -1.3333, "type": "quantitative"}, "x2": {"datum": -0.461}, "y": {"datum": 1.0943, "type": "quantitative"}, "y2": {"datum": 0.7638}}},
            {"data": {"values": [{}]}, "mark": {"type": "rect", "fill": "#ffffff", "stroke": "#000000", "strokeWidth": 1}, "encoding": {"x": {"datum": -1.3546, "type": "quantitative"}, "x2": {"datum": -0.4823}, "y": {"datum": 1.1156, "type": "quantitative"}, "y2": {"datum": 0.7851}}},
            {"data": {"values": [{}]}, "mark": {"type": "text", "align": "center", "baseline": "top", "fontSize": 11, "lineHeight": 16.6, "color": "#000000"}, "encoding": {"x": {"datum": -0.917, "type": "quantitative"}, "y": {"datum": 1.0979, "type": "quantitative"}, "text": {"value": ["average Rₛ @ different", "angle measurement"]}}},
            {"data": {"values": [{}]}, "mark": {"type": "text", "align": "center", "baseline": "middle", "fontSize": 11, "color": "#2b2bff"}, "encoding": {"x": {"datum": -0.917, "type": "quantitative"}, "y": {"datum": 0.839, "type": "quantitative"}, "text": {"value": "(Inner Faces)"}}},
            {"data": {"values": [{}]}, "mark": {"type": "text", "align": "center", "baseline": "middle", "fontSize": 13.5, "fontWeight": "bold", "color": "#2929c8"}, "encoding": {"x": {"datum": -1.2745, "type": "quantitative"}, "y": {"datum": 0.697, "type": "quantitative"}, "text": {"value": "(e)"}}}
          ]
        },
        {
          "width": 436, "height": 347,
          "data": {"name": "ra"},
          "transform": [
            {"filter": "datum.panel == 'f'"},
            {"lookup": "panel", "from": {"data": {"name": "panels"}, "key": "panel", "fields": ["lo", "hi"]}},
            {"calculate": "(datum.value - datum.lo) / (datum.hi - datum.lo)", "as": "r"},
            {"calculate": "datum.pair == 'C2 - C3' ? datum.r : datum.pair == 'C4 - C1' ? -datum.r : 0", "as": "x"},
            {"calculate": "datum.pair == 'C1 - C2' ? datum.r : datum.pair == 'C3 - C4' ? -datum.r : 0", "as": "y"}
          ],
          "layer": [
            {
              "data": {"name": "rings"},
              "transform": [
                {"filter": "datum.panel == 'f'"},
                {"calculate": "['C1 - C2', 'C2 - C3', 'C3 - C4', 'C4 - C1']", "as": "pair"},
                {"flatten": ["pair"]},
                {"lookup": "panel", "from": {"data": {"name": "panels"}, "key": "panel", "fields": ["lo", "hi"]}},
                {"calculate": "(datum.tick - datum.lo) / (datum.hi - datum.lo)", "as": "r"},
                {"calculate": "datum.pair == 'C2 - C3' ? datum.r : datum.pair == 'C4 - C1' ? -datum.r : 0", "as": "x"},
                {"calculate": "datum.pair == 'C1 - C2' ? datum.r : datum.pair == 'C3 - C4' ? -datum.r : 0", "as": "y"}
              ],
              "mark": {"type": "line", "interpolate": "linear-closed", "stroke": "#a6a6a6", "strokeWidth": 1},
              "encoding": {
                "x": {"field": "x", "type": "quantitative", "scale": {"domain": [-1.4348, 1.6574], "nice": false, "zero": false}, "axis": null},
                "y": {"field": "y", "type": "quantitative", "scale": {"domain": [-1.1865, 1.2745], "nice": false, "zero": false}, "axis": null},
                "detail": {"field": "tick", "type": "nominal"},
                "order": {"field": "pair", "type": "ordinal"}
              }
            },
            {"data": {"values": [{}]}, "mark": {"type": "rule", "color": "#000000", "strokeWidth": 1}, "encoding": {"x": {"datum": -1, "type": "quantitative"}, "x2": {"datum": 1}, "y": {"datum": 0, "type": "quantitative"}}},
            {"data": {"values": [{}]}, "mark": {"type": "rule", "color": "#000000", "strokeWidth": 1}, "encoding": {"x": {"datum": 0, "type": "quantitative"}, "y": {"datum": -1, "type": "quantitative"}, "y2": {"datum": 1}}},
            {
              "data": {"name": "rings"},
              "transform": [
                {"filter": "datum.panel == 'f'"},
                {"lookup": "panel", "from": {"data": {"name": "panels"}, "key": "panel", "fields": ["lo", "hi"]}},
                {"calculate": "(datum.tick - datum.lo) / (datum.hi - datum.lo)", "as": "r"}
              ],
              "mark": {"type": "text", "align": "right", "baseline": "middle", "dx": -1, "fontSize": 11, "color": "#333333"},
              "encoding": {"x": {"datum": 0, "type": "quantitative"}, "y": {"field": "r", "type": "quantitative"}, "text": {"field": "tick", "type": "quantitative"}}
            },
            {
              "data": {"name": "axes"},
              "transform": [
                {"calculate": "datum.pair == 'C2 - C3' ? 1.247 : datum.pair == 'C4 - C1' ? -1.247 : 0", "as": "lx"},
                {"calculate": "datum.pair == 'C1 - C2' ? 1.142 : datum.pair == 'C3 - C4' ? -1.14 : 0", "as": "ly"}
              ],
              "mark": {"type": "text", "align": "center", "baseline": "middle", "fontSize": 11.5, "fontWeight": "bold", "color": "#9933ff"},
              "encoding": {"x": {"field": "lx", "type": "quantitative"}, "y": {"field": "ly", "type": "quantitative"}, "text": {"field": "pair", "type": "nominal"}}
            },
            {
              "mark": {"type": "line", "interpolate": "linear-closed", "strokeWidth": 2},
              "encoding": {
                "x": {"field": "x", "type": "quantitative"},
                "y": {"field": "y", "type": "quantitative"},
                "stroke": {"field": "series", "type": "nominal", "scale": {"domain": ["0°", "45°", "90°"], "range": ["#000000", "#ff0000", "#00ee00"]}},
                "order": {"field": "pair", "type": "ordinal"}
              }
            },
            {
              "mark": {"type": "point", "filled": true, "size": 40, "strokeWidth": 1, "opacity": 1},
              "encoding": {
                "x": {"field": "x", "type": "quantitative"},
                "y": {"field": "y", "type": "quantitative"},
                "stroke": {"field": "series", "type": "nominal"},
                "shape": {"field": "series", "type": "nominal", "scale": {"domain": ["0°", "45°", "90°"], "range": ["square", "circle", "triangle-up"]}},
                "fill": {
                  "field": "series", "type": "nominal",
                  "scale": {"domain": ["0°", "45°", "90°"], "range": ["#000000", "#ff0000", "#00ee00"]},
                  "legend": {
                    "orient": "none", "legendX": 301.8, "legendY": 43.7, "padding": 0,
                    "title": ["Nozzle Diameter = 0.2 mm", "Layer Height = 0.1 mm"],
                    "titleOrient": "bottom", "titleAnchor": "start", "titleAlign": "left", "titleFontSize": 11, "titleFontWeight": "normal", "titleColor": "#000000", "titleLineHeight": 15, "titlePadding": 3,
                    "labelFontSize": 11, "labelColor": "#000000", "labelOffset": 10, "labelExpr": "'Rₛ @ ' + datum.label",
                    "symbolSize": 49, "symbolStrokeWidth": 2, "rowPadding": 3
                  }
                }
              }
            },
            {"data": {"values": [{}]}, "mark": {"type": "rect", "fill": "#000000"}, "encoding": {"x": {"datum": -1.3333, "type": "quantitative"}, "x2": {"datum": -0.461}, "y": {"datum": 1.0943, "type": "quantitative"}, "y2": {"datum": 0.7638}}},
            {"data": {"values": [{}]}, "mark": {"type": "rect", "fill": "#ffffff", "stroke": "#000000", "strokeWidth": 1}, "encoding": {"x": {"datum": -1.3546, "type": "quantitative"}, "x2": {"datum": -0.4823}, "y": {"datum": 1.1156, "type": "quantitative"}, "y2": {"datum": 0.7851}}},
            {"data": {"values": [{}]}, "mark": {"type": "text", "align": "center", "baseline": "top", "fontSize": 11, "lineHeight": 16.6, "color": "#000000"}, "encoding": {"x": {"datum": -0.917, "type": "quantitative"}, "y": {"datum": 1.0979, "type": "quantitative"}, "text": {"value": ["average Rₛ @ different", "angle measurement"]}}},
            {"data": {"values": [{}]}, "mark": {"type": "text", "align": "center", "baseline": "middle", "fontSize": 11, "color": "#2b2bff"}, "encoding": {"x": {"datum": -0.917, "type": "quantitative"}, "y": {"datum": 0.839, "type": "quantitative"}, "text": {"value": "(Inner Faces)"}}},
            {"data": {"values": [{}]}, "mark": {"type": "text", "align": "center", "baseline": "middle", "fontSize": 13.5, "fontWeight": "bold", "color": "#2929c8"}, "encoding": {"x": {"datum": -1.2745, "type": "quantitative"}, "y": {"datum": 0.697, "type": "quantitative"}, "text": {"value": "(f)"}}}
          ]
        }
      ]
    }
  ]
}
